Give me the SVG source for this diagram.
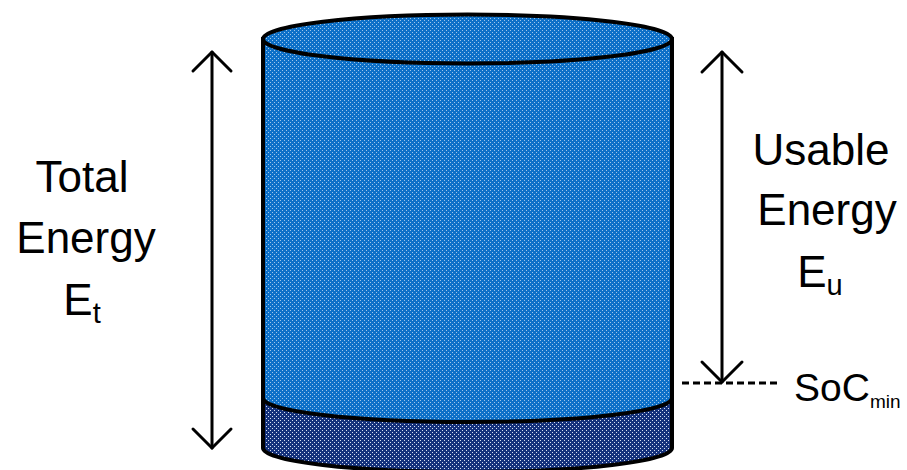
<svg xmlns="http://www.w3.org/2000/svg" width="907" height="470" viewBox="0 0 907 470">
<defs>
<pattern id="dotBlue" width="4" height="4" patternUnits="userSpaceOnUse">
<rect width="4" height="4" fill="#0D70C8"/>
<rect x="0" y="0" width="1" height="1" fill="#9EC6EA"/>
<rect x="2" y="2" width="1" height="1" fill="#9EC6EA"/>
</pattern>
<pattern id="dotNavy" width="4" height="4" patternUnits="userSpaceOnUse">
<rect width="4" height="4" fill="#15327C"/>
<rect x="0" y="0" width="1" height="1" fill="#D8E0F2"/>
<rect x="2" y="2" width="1" height="1" fill="#D8E0F2"/>
</pattern>
</defs>
<style>
.outline{stroke:#000;stroke-width:4;}
.arrow{fill:none;stroke:#000;stroke-width:3;stroke-linecap:round;stroke-linejoin:round;}
.lbl{font-family:"Liberation Sans",Arial,sans-serif;font-size:44px;fill:#000;text-anchor:middle;}
.sub{font-size:29px;}
.dash{fill:none;stroke:#000;stroke-width:3;stroke-dasharray:7 4;}
</style>
<rect width="907" height="470" fill="#fff"/>
<g id="cylinder">
<path d="M263,398 L263,448 A204.5,24 0 0 0 672,448 L672,398 Z" fill="url(#dotNavy)" class="outline"/>
<path d="M263,39 L263,398 A204.5,24 0 0 0 672,398 L672,39 Z" fill="url(#dotBlue)" class="outline"/>
<ellipse cx="467.5" cy="39" rx="204.5" ry="24.5" fill="url(#dotBlue)" class="outline"/>
</g>
<g id="connectors">
<g id="total-arrow">
<line x1="212" y1="52" x2="212" y2="448" class="arrow"/>
<polyline points="193,71 212,52 231,71" class="arrow"/>
<polyline points="193,429 212,448 231,429" class="arrow"/>
</g>
<g id="usable-arrow">
<line x1="722" y1="52" x2="722" y2="382" class="arrow"/>
<polyline points="702,72 722,52 742,72" class="arrow"/>
<polyline points="702,362 722,382 742,362" class="arrow"/>
</g>
<line id="soc-line" x1="682" y1="383" x2="778" y2="383" class="dash"/>
</g>
<g id="total-label">
<text class="lbl" x="82" y="192">Total</text>
<text class="lbl" x="86" y="253">Energy</text>
<text class="lbl" x="82" y="315">E<tspan class="sub" dy="8">t</tspan></text>
</g>
<g id="usable-label">
<text class="lbl" x="821" y="165">Usable</text>
<text class="lbl" x="827" y="225">Energy</text>
<text class="lbl" x="820" y="287">E<tspan class="sub" dy="8">u</tspan></text>
</g>
<g id="soc-label">
<text class="lbl" x="794" y="401" style="text-anchor:start;font-size:39px">SoC<tspan dy="7" style="font-size:19px">min</tspan></text>
</g>
</svg>
